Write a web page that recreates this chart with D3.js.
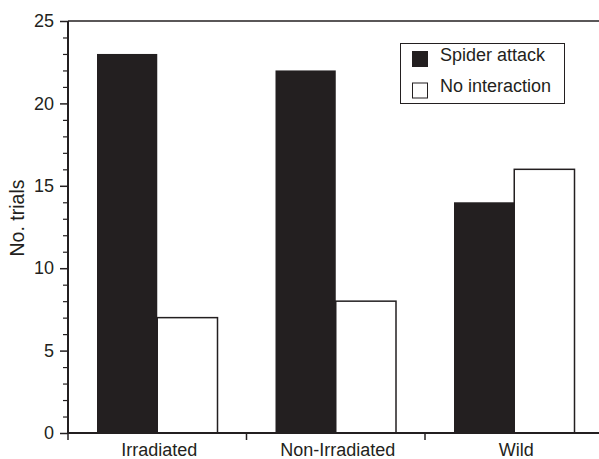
<!DOCTYPE html>
<html>
<head>
<meta charset="utf-8">
<script src="https://cdn.jsdelivr.net/npm/d3@7/dist/d3.min.js"></script>
<style>
  html, body { margin: 0; padding: 0; background: #fff; }
  svg { display: block; font-family: "Liberation Sans", Arial, Helvetica, sans-serif; }
</style>
</head>
<body>
<svg id="chart" width="599" height="459"></svg>
<script>
const categories = ["Irradiated", "Non-Irradiated", "Wild"];
const seriesNames = ["Spider attack", "No interaction"];
const spiderAttack = [23, 22, 14];
const noInteraction = [7, 8, 16];
const yTicks = [0, 5, 10, 15, 20, 25];

const ink = "#231f20";
const svg = d3.select("#chart");
const margin = { left: 68, top: 21, bottom: 433 };
const catWidth = 178.5;

const x = d3.scaleBand()
  .domain(categories)
  .range([margin.left, margin.left + catWidth * categories.length])
  .paddingInner(0)
  .paddingOuter(0);

const inner = d3.scaleBand()
  .domain(seriesNames)
  .range([29, catWidth - 29])
  .padding(0);

const y = d3.scaleLinear().domain([0, 25]).range([margin.bottom, margin.top]);

const data = categories.map((c, i) => ({ cat: c, values: [spiderAttack[i], noInteraction[i]] }));

// bars
const groups = svg.append("g").selectAll("g").data(data).join("g")
  .attr("transform", d => `translate(${x(d.cat)},0)`);

groups.selectAll("rect").data(d => d.values.map((v, j) => ({ s: seriesNames[j], v, j })))
  .join("rect")
  .attr("x", d => inner(d.s))
  .attr("width", inner.bandwidth())
  .attr("y", d => y(d.v))
  .attr("height", d => y(0) - y(d.v))
  .attr("fill", d => d.j === 0 ? ink : "#fff")
  .attr("stroke", ink)
  .attr("stroke-width", d => d.j === 0 ? 0 : 1.5);

// top line
svg.append("line")
  .attr("x1", margin.left).attr("x2", 599)
  .attr("y1", y(25)).attr("y2", y(25))
  .attr("stroke", ink).attr("stroke-width", 1.5);

// y axis minor ticks
const yMinor = d3.range(0, 26).filter(v => v % 5 !== 0);
const yAxisMinor = d3.axisLeft(y).tickValues(yMinor).tickSize(5).tickFormat("");
svg.append("g").attr("transform", `translate(${margin.left},0)`).call(yAxisMinor)
  .call(g => g.select(".domain").remove())
  .call(g => g.selectAll("line").attr("stroke", ink).attr("stroke-width", 1.2));

// y axis major
const yAxis = d3.axisLeft(y).tickValues(yTicks).tickSize(8).tickPadding(6);
svg.append("g").attr("transform", `translate(${margin.left},0)`).call(yAxis)
  .call(g => g.select(".domain").attr("stroke", ink).attr("stroke-width", 2).attr("d", `M0,${y(0)}V${y(25)}`))
  .call(g => g.selectAll("line").attr("stroke", ink).attr("stroke-width", 1.5))
  .call(g => g.selectAll("text").attr("fill", ink).attr("font-size", 18)
    .attr("font-family", '"Liberation Sans", Arial, sans-serif'));

// x axis
const bounds = d3.range(0, categories.length + 1).map(i => margin.left + i * catWidth);
svg.append("line")
  .attr("x1", margin.left - 1).attr("x2", 605)
  .attr("y1", y(0)).attr("y2", y(0))
  .attr("stroke", ink).attr("stroke-width", 2);
svg.append("g").selectAll("line").data(bounds).join("line")
  .attr("x1", d => d).attr("x2", d => d)
  .attr("y1", y(0)).attr("y2", y(0) + 7)
  .attr("stroke", ink).attr("stroke-width", 1.5);
svg.append("g").selectAll("text").data(categories).join("text")
  .attr("x", d => x(d) + x.bandwidth() / 2 + 2)
  .attr("y", 456)
  .attr("text-anchor", "middle")
  .attr("font-size", 18)
  .attr("fill", ink)
  .text(d => d);

// y label
svg.append("text")
  .attr("transform", "translate(24,218) rotate(-90)")
  .attr("text-anchor", "middle")
  .attr("font-size", 19.5)
  .attr("fill", ink)
  .text("No. trials");

// legend
const lg = svg.append("g");
lg.append("rect").attr("x", 400.5).attr("y", 43.5).attr("width", 164).attr("height", 60)
  .attr("fill", "#fff").attr("stroke", ink).attr("stroke-width", 1);
seriesNames.forEach((s, i) => {
  lg.append("rect")
    .attr("x", 412.5).attr("y", 51.5 + i * 31.5).attr("width", 15).attr("height", 15)
    .attr("fill", i === 0 ? ink : "#fff").attr("stroke", ink).attr("stroke-width", 1);
  lg.append("text")
    .attr("x", 440).attr("y", 61 + i * 31)
    .attr("font-size", 18).attr("fill", ink)
    .text(s);
});
</script>
</body>
</html>
